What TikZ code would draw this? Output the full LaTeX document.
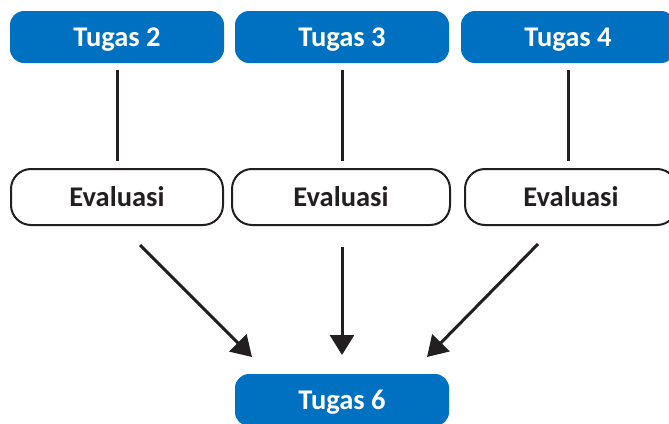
\documentclass[tikz,border=0pt]{standalone}
\usepackage{fontspec}
\setmainfont{Carlito}
\usetikzlibrary{arrows.meta}
\definecolor{tugasblue}{RGB}{0,112,192}
\definecolor{inkdark}{RGB}{35,31,32}

\begin{document}
\begin{tikzpicture}[x=1pt, y=-1pt,
        tugas/.style={fill=tugasblue, rounded corners=14pt, inner sep=0pt,
            minimum width=214pt, minimum height=52pt, text=white,
            text height=19pt, text depth=0pt,
            font=\fontsize{28.5}{30}\selectfont\bfseries},
        evaluasi/.style={draw=inkdark, line width=2pt, rounded corners=20pt, inner sep=0pt,
            minimum width=212pt, minimum height=56pt, text=inkdark,
            text height=19pt, text depth=0pt,
            font=\fontsize{28.5}{30}\selectfont\bfseries},
        link/.style={draw=inkdark, line width=3pt},
        arrow/.style={link, -{Triangle[length=20pt, width=24pt]}}]

        \useasboundingbox (0,0) rectangle (669,423);

                % top row
                \node[tugas] (t2) at (117,37) {Tugas 2};
                \node[tugas] (t3) at (342,37) {Tugas 3};
                \node[tugas] (t4) at (568,37) {Tugas 4};

                % evaluation row
                \node[evaluasi] (e1) at (117,197) {Evaluasi};
                \node[evaluasi, minimum width=218pt] (e2) at (341,197) {Evaluasi};
                \node[evaluasi] (e3) at (571,197) {Evaluasi};

                % bottom
                \node[tugas] (t6) at (342,400) {Tugas 6};

                \foreach \a/\b in {t2/e1, t3/e2, t4/e3} {
                    \draw[link, shorten <=7pt, shorten >=7pt] (\a.south) -- (\a.south |- \b.north);
                }

                \coordinate (s1) at (140,245);
                \coordinate (s2) at (342,247);
                \coordinate (s3) at (538,244);
                \coordinate (h1) at (252,357);
                \coordinate (h2) at (342,355);
                \coordinate (h3) at (427,357);

                \draw[arrow] (s1) -- (h1);
                \draw[arrow] (s2) -- (h2);
                \draw[arrow] (s3) -- (h3);

            \end{tikzpicture}
\end{document}
